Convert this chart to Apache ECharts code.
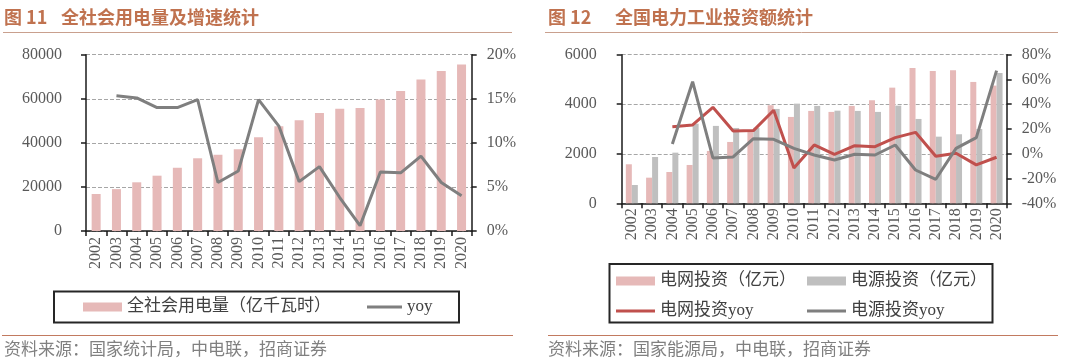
<!DOCTYPE html>
<html><head><meta charset="utf-8">
<script src="https://cdn.jsdelivr.net/npm/echarts@6/dist/echarts.min.js"></script>
<style>html,body{margin:0;padding:0;background:#fff}#c{width:1080px;height:362px}</style>
</head><body><div id="c"></div>
<script>
// ---- data ----
const years = ['2002','2003','2004','2005','2006','2007','2008','2009','2010','2011','2012','2013','2014','2015','2016','2017','2018','2019','2020'];
const elecUse = [16800,19000,22100,25100,28700,33000,34600,37100,42500,47500,50200,53500,55500,55800,59700,63500,68800,72600,75600];
const elecYoy = [null,15.35,15.1,14.0,14.0,14.9,5.5,6.8,14.9,11.9,5.6,7.3,3.8,0.6,6.7,6.6,8.5,5.5,4.0];
const gridInvest = [1576,1035,1265,1548,2114,2477,2895,3960,3487,3730,3690,3932,4161,4670,5466,5345,5373,4900,4752];
const powerInvest = [740,1870,2045,3216,3125,3042,3050,3810,4024,3932,3740,3730,3690,3943,3406,2691,2788,3000,5264];
const gridYoy = [null,null,21.9,23.3,37.5,18.4,18.7,35.1,-11.5,7.1,-0.4,6.5,5.7,13.0,17.3,-2.0,0.4,-9.0,-2.8];
const powerYoy = [null,null,7.9,58.2,-3.4,-2.6,12.2,11.7,4.4,-1.0,-5.0,-0.4,-1.0,7.1,-13.1,-20.6,4.4,13.0,67.1];
const leftTicks = {min:0, max:80000, interval:20000};
const leftPct = {min:0, max:20, interval:5};
const rightTicks = {min:0, max:6000, interval:2000};
const rightPct = {min:-40, max:80, interval:20};

const nameUse = '全社会用电量（亿千瓦时）';
const nameYoy = 'yoy';
const nameGrid = '电网投资（亿元）';
const namePower = '电源投资（亿元）';
const nameGridYoy = '电网投资yoy';
const namePowerYoy = '电源投资yoy';

// ---- styles ----
const FONT = "'Liberation Serif','Noto Sans CJK SC',serif";
const CJK = "'Noto Sans CJK SC',sans-serif";
const PINK = '#e6b9b8', GRAYBAR = '#bfbfbf', RED = '#c0504d', GRAYLINE = '#7f7f7f';
const axisCol = '#1a1a1a';
const lbl = {fontFamily: FONT, fontSize: 16, color: '#595959'};
const lineIcon = w => 'path://M0,0 L' + w + ',0 L' + w + ',3 L0,3 Z';

function xAx(gi, margin) {
  return {type:'category', gridIndex:gi, data:years, boundaryGap:true,
    axisLine:{show:true, lineStyle:{color:axisCol, width:1.5}},
    axisTick:{show:true, length:5, interval:0, lineStyle:{color:axisCol, width:1.5}},
    axisLabel:Object.assign({rotate:90, interval:0, margin:margin}, lbl),
    splitLine:{show:false}};
}
function yAx(gi, t, pos, margin, pct, split) {
  return {type:'value', gridIndex:gi, position:pos, min:t.min, max:t.max, interval:t.interval,
    axisLine:{show:true, lineStyle:{color:axisCol, width:1.5}},
    axisTick:{show:true, length:5, lineStyle:{color:axisCol, width:1.5}},
    axisLabel:Object.assign({margin:margin, formatter: pct ? (v => v + '%') : (v => String(v))}, lbl),
    splitLine:{show:split, lineStyle:{color:'#a6a6a6', type:[4,2], width:1}}};
}
function leg(name, x, y, w, icon) {
  return {data:[{name:name, icon:icon}], left:x, top:y, padding:0, itemWidth:w, itemHeight:9, itemGap:0,
    textStyle:{fontFamily:FONT, fontSize:17, color:'#404040', lineHeight:18}};
}

const chart = echarts.init(document.getElementById('c'), null, {renderer:'canvas'});
chart.setOption({
  animation:false,
  backgroundColor:'#fff',
  grid:[
    {left:86, top:54.7, width:385.7, height:176.3},
    {left:621.7, top:54.7, width:385, height:148.6}
  ],
  xAxis:[xAx(0, 6), xAx(1, 5)],
  yAxis:[
    yAx(0, leftTicks, 'left', 24, false, true),
    yAx(0, leftPct, 'right', 15, true, false),
    yAx(1, rightTicks, 'left', 25, false, true),
    yAx(1, rightPct, 'right', 15, true, false)
  ],
  legend:[
    leg(nameUse, 83, 298, 39, 'rect'),
    leg(nameYoy, 367, 298, 35, lineIcon(35)),
    leg(nameGrid, 616, 272, 39, 'rect'),
    leg(namePower, 807, 272, 39, 'rect'),
    leg(nameGridYoy, 616, 302, 39, lineIcon(39)),
    leg(namePowerYoy, 807, 302, 39, lineIcon(39))
  ],
  series:[
    {name:nameUse, type:'bar', xAxisIndex:0, yAxisIndex:0, data:elecUse, barWidth:9, itemStyle:{color:PINK}},
    {name:nameYoy, type:'line', xAxisIndex:0, yAxisIndex:1, data:elecYoy, symbol:'none', lineStyle:{color:GRAYLINE, width:3}, itemStyle:{color:GRAYLINE}},
    {name:nameGrid, type:'bar', xAxisIndex:1, yAxisIndex:2, data:gridInvest, barWidth:6, barGap:'0%', itemStyle:{color:PINK}},
    {name:namePower, type:'bar', xAxisIndex:1, yAxisIndex:2, data:powerInvest, barWidth:6, barGap:'0%', itemStyle:{color:GRAYBAR}},
    {name:nameGridYoy, type:'line', xAxisIndex:1, yAxisIndex:3, data:gridYoy, symbol:'none', lineStyle:{color:RED, width:3}, itemStyle:{color:RED}},
    {name:namePowerYoy, type:'line', xAxisIndex:1, yAxisIndex:3, data:powerYoy, symbol:'none', lineStyle:{color:GRAYLINE, width:3}, itemStyle:{color:GRAYLINE}}
  ],
  graphic:[
    {type:'text', style:{text:'图 11', x:4, y:17, verticalAlign:'middle', align:'left', fill:'#c0724f', font:"bold 18px " + CJK}},
    {type:'text', style:{text:'全社会用电量及增速统计', x:61, y:17, verticalAlign:'middle', align:'left', fill:'#c0724f', font:"bold 18px " + CJK}},
    {type:'text', style:{text:'图 12', x:548, y:17, verticalAlign:'middle', align:'left', fill:'#c0724f', font:"bold 18px " + CJK}},
    {type:'text', style:{text:'全国电力工业投资额统计', x:615, y:17, verticalAlign:'middle', align:'left', fill:'#c0724f', font:"bold 18px " + CJK}},
    {type:'line', shape:{x1:3, y1:32.5, x2:512, y2:32.5}, style:{stroke:'#c9a08e', lineWidth:1}},
    {type:'line', shape:{x1:545, y1:32.5, x2:1058, y2:32.5}, style:{stroke:'#c9a08e', lineWidth:1}},
    {type:'rect', shape:{x:54, y:291.5, width:405, height:31}, style:{fill:'none', stroke:'#262626', lineWidth:2}},
    {type:'rect', shape:{x:609.5, y:264, width:383, height:58.5}, style:{fill:'none', stroke:'#262626', lineWidth:2}},
    {type:'line', shape:{x1:2, y1:335.5, x2:513, y2:335.5}, style:{stroke:'#c27a60', lineWidth:1}},
    {type:'line', shape:{x1:548, y1:335.5, x2:1058, y2:335.5}, style:{stroke:'#c27a60', lineWidth:1}},
    {type:'text', style:{text:'资料来源：国家统计局，中电联，招商证券', x:4, y:349, verticalAlign:'middle', align:'left', fill:'#808080', font:"17px " + CJK}},
    {type:'text', style:{text:'资料来源：国家能源局，中电联，招商证券', x:548, y:349, verticalAlign:'middle', align:'left', fill:'#808080', font:"17px " + CJK}}
  ]
});
</script>
</body></html>
